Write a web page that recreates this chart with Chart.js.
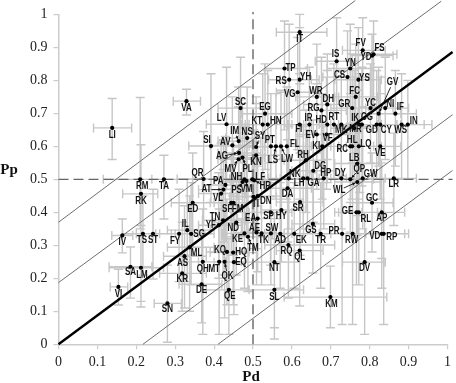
<!DOCTYPE html>
<html>
<head>
<meta charset="utf-8">
<title>Pp vs Pd</title>
<script src="https://cdn.jsdelivr.net/npm/chart.js@4"></script>
<style>
html, body { margin: 0; padding: 0; background: #ffffff; }
canvas { display: block; }
</style>
</head>
<body>
<canvas id="chart" width="456" height="383"></canvas>
<script>
const codes = [
	'LI','VA','RM','RK','TA','QR','SI','LV','AV','IM',
	'NS','AG','MV','PL','SC','EG','KT','HN','SY','PT',
	'LS','LW','FL','KN','IT','TP','RS','YH','VG','WR',
	'DH','RG','IS','FV','FS','YD','YN','CS','YS','FC',
	'GR','YC','GV','NI','IF','IN','WS','CY','GD','CG',
	'MR','IK','MK','RT','HD','IR','FI','EV','VF','KI',
	'HL','RC','LQ','VE','LB','RH','DG','HP','NK','LH',
	'GA','DY','QP','GW','LR','WL','DA','PA','AT','VL',
	'PS','VM','NH','LF','HR','TI','DN','ED','SF','FM',
	'EA','SP','HY','SR','TN','YF','ND','AE','SW','TK',
	'KE','TM','AD','EK','GS','TR','PR','RW','VD','RP',
	'AP','RL','GE','GC','DV','KM','SL','NT','QL','RQ',
	'EQ','HQ','KQ','QK','MT','QH','DE','QE','AS','ML',
	'KR','SN','IV','TS','ST','FY','IL','SG','SA','LM',
	'VI'
];
const pd = [
	.138,.329,.210,.212,.271,.373,.392,.432,.447,.463,
	.485,.464,.463,.473,.468,.531,.525,.538,.508,.546,
	.559,.572,.587,.508,.620,.581,.593,.620,.615,.664,
	.691,.676,.715,.782,.810,.806,.750,.743,.771,.764,
	.755,.802,.823,.840,.866,.898,.882,.827,.818,.780,
	.774,.760,.727,.708,.691,.645,.620,.664,.689,.678,
	.755,.750,.772,.827,.768,.636,.655,.682,.592,.629,
	.640,.727,.750,.782,.862,.768,.589,.429,.424,.418,
	.473,.483,.478,.498,.503,.501,.512,.345,.444,.450,
	.512,.545,.573,.621,.423,.412,.457,.509,.546,.522,
	.478,.487,.570,.606,.654,.674,.729,.756,.831,.836,
	.831,.772,.766,.806,.787,.699,.555,.555,.620,.591,
	.451,.449,.433,.427,.413,.371,.368,.438,.324,.337,
	.318,.280,.164,.217,.243,.310,.331,.341,.185,.212,
	.154
];
const pp = [
	.656,.737,.500,.456,.500,.501,.601,.667,.603,.616,
	.625,.580,.561,.566,.716,.699,.666,.666,.598,.600,
	.600,.600,.600,.573,.946,.836,.802,.802,.764,.750,
	.727,.709,.858,.891,.879,.875,.836,.810,.802,.750,
	.716,.716,.699,.716,.699,.666,.666,.666,.666,.666,
	.666,.655,.666,.666,.666,.666,.666,.636,.636,.600,
	.600,.600,.600,.600,.548,.558,.526,.503,.503,.503,
	.503,.503,.500,.503,.503,.492,.473,.483,.469,.457,
	.492,.495,.500,.500,.497,.447,.449,.429,.429,.429,
	.381,.400,.407,.431,.376,.361,.369,.339,.336,.336,
	.336,.326,.335,.335,.365,.335,.335,.335,.335,.335,
	.400,.400,.400,.429,.249,.143,.165,.249,.284,.301,
	.249,.278,.280,.250,.250,.250,.182,.165,.267,.294,
	.215,.124,.330,.335,.335,.335,.346,.335,.235,.232,
	.174
];
const pdLow = [
	.090,.295,.115,.165,.240,.305,.335,.380,.390,.410,
	.430,.410,.410,.420,.410,.470,.470,.480,.450,.490,
	.500,.510,.530,.450,.560,.530,.540,.570,.560,.610,
	.630,.620,.660,.730,.750,.750,.690,.680,.710,.710,
	.700,.750,.770,.790,.800,.840,.820,.770,.760,.720,
	.720,.700,.670,.650,.630,.590,.560,.610,.630,.620,
	.700,.690,.720,.770,.710,.580,.600,.630,.540,.570,
	.590,.670,.690,.730,.810,.710,.530,.370,.360,.360,
	.420,.430,.420,.440,.450,.440,.460,.290,.390,.390,
	.460,.490,.520,.560,.370,.360,.400,.450,.490,.470,
	.420,.430,.510,.550,.600,.620,.670,.700,.770,.790,
	.780,.720,.710,.750,.730,.580,.490,.500,.560,.530,
	.400,.390,.380,.370,.360,.320,.310,.380,.270,.280,
	.260,.246,.137,.165,.200,.260,.280,.290,.130,.130,
	.133
];
const pdHigh = [
	.188,.365,.240,.255,.305,.440,.450,.490,.500,.520,
	.540,.520,.520,.530,.530,.600,.580,.600,.570,.610,
	.620,.630,.650,.570,.690,.640,.650,.670,.670,.720,
	.750,.740,.770,.840,.870,.860,.810,.800,.830,.820,
	.810,.860,.880,.900,.920,.960,.940,.880,.870,.840,
	.830,.820,.780,.770,.750,.700,.680,.720,.750,.740,
	.810,.810,.830,.880,.830,.690,.710,.740,.650,.690,
	.700,.780,.810,.840,.920,.830,.650,.490,.480,.480,
	.530,.540,.530,.560,.560,.560,.570,.400,.500,.510,
	.570,.600,.630,.680,.480,.470,.510,.560,.600,.580,
	.530,.540,.630,.670,.710,.730,.790,.810,.890,.900,
	.890,.830,.820,.860,.840,.844,.630,.620,.680,.710,
	.510,.510,.490,.480,.470,.430,.420,.490,.380,.400,
	.380,.316,.191,.250,.300,.360,.390,.400,.240,.270,
	.178
];
const ppLow = [
	.560,.695,.350,.130,.380,.360,.430,.470,.450,.440,
	.470,.420,.400,.400,.550,.530,.500,.500,.440,.450,
	.440,.440,.440,.420,.790,.650,.620,.630,.590,.580,
	.560,.540,.700,.720,.720,.710,.670,.640,.640,.580,
	.550,.550,.540,.560,.540,.500,.500,.500,.500,.480,
	.460,.480,.500,.500,.490,.500,.500,.470,.470,.440,
	.440,.430,.440,.440,.390,.400,.370,.350,.350,.350,
	.350,.350,.340,.350,.360,.330,.310,.320,.310,.300,
	.330,.340,.340,.350,.340,.290,.290,.270,.270,.270,
	.220,.240,.250,.270,.210,.200,.210,.180,.180,.180,
	.170,.160,.170,.170,.216,.170,.060,.060,.170,.060,
	.260,.180,.180,.280,.030,.050,.016,.050,.116,.140,
	.090,.120,.120,.080,.030,.030,.065,.030,.110,.100,
	.100,.006,.277,.210,.198,.190,.190,.180,.140,.113,
	.119
];
const ppHigh = [
	.745,.773,.748,.605,.573,.645,.820,.840,.750,.780,
	.780,.740,.720,.730,.870,.850,.820,.830,.750,.760,
	.760,.770,.780,.730,1.00,.980,.970,.960,.930,.910,
	.880,.870,.990,.990,.980,.940,.970,.950,.960,.910,
	.880,.850,.840,.870,.830,.800,.820,.810,.830,.840,
	.820,.830,.830,.850,.830,.840,.820,.790,.810,.760,
	.760,.760,.770,.760,.700,.710,.680,.660,.660,.660,
	.650,.660,.660,.660,.640,.650,.620,.630,.620,.610,
	.640,.650,.660,.650,.650,.610,.600,.580,.580,.580,
	.540,.550,.560,.580,.530,.520,.520,.500,.490,.490,
	.490,.480,.490,.490,.520,.490,.510,.500,.500,.500,
	.550,.550,.540,.580,.400,.237,.320,.400,.440,.450,
	.400,.440,.440,.410,.410,.410,.340,.320,.420,.450,
	.370,.240,.380,.450,.470,.470,.500,.490,.295,.360,
	.227
];

// thin and thick guide lines, y at the two ends
const guideX = [
	[0, .763],
	[0, .984],
	[0, 1.013],
	[.217, 1.013],
	[.41, 1.013]
];
const guideY = [
	[.37, 1.042],
	[.187, 1.04],
	[0, .886],
	[0, .696],
	[0, .527]
];
const guideWidth = [1, 1, 2.4, 1, 1];
const dashedX = [[.5, .5], [0, 1.013]];
const dashedY = [[0, 1.007], [.5, .5]];

const tickStep = 0.1;

// label placement, pixels from the dot
const labelDx = [
	0,0,2,0,0,-6,-4,-5,-7,-4,
	0,-17,-8,5,0,0,-6,8,4,-1,
	-3,6,8,0,0,6,-8,6,-8,-1,
	1,-8,-1,-2,6,-6,0,-8,6,-1,
	-8,0,14,5,5,6,-1,6,-5,5,
	-4,1,0,0,-6,-1,-1,-6,1,-6,
	0,-8,7,0,-3,-3,7,2,6,-4,
	6,-1,9,8,0,-18,0,-7,-17,-3,
	-6,0,-8,8,11,2,8,0,-4,4,
	-7,-2,0,-2,-8,-8,-3,-2,1,2,
	-7,5,0,7,-2,0,-8,-1,-7,8,
	0,7,-9,0,0,1,0,0,0,-2,
	7,8,-7,3,-5,0,0,1,-2,7,
	0,0,0,-1,0,-4,-2,8,0,1,
	0
];
const labelDy = [
	7,7,7,7,7,-6,-6,-6,-3,-10,
	-6,3,10,12,-6,-6,-3,-3,-11,-6,
	14,13,-2,7,7,0,2,-2,2,-6,
	-5,-2,-7,-7,-6,2,-5,-2,-1,-6,
	-4,-5,-31,-4,-6,-3,6,6,6,-7,
	5,-10,6,-7,-4,-6,5,1,4,0,
	-6,3,-2,7,-5,-5,-5,-5,-4,5,
	5,-5,-10,-4,6,8,6,-4,0,5,
	8,8,-2,-2,6,7,5,6,6,6,
	0,4,6,6,-3,0,6,-4,-5,7,
	6,11,6,6,6,6,-3,6,2,3,
	6,7,-1,-5,6,7,7,6,7,6,
	0,0,-2,14,7,7,6,6,7,6,
	6,6,7,6,6,7,-6,0,5,7,
	7
];
const arrowCodes = ['IM','AG','MV','PL','SY','LS','LW','GV','QP','WL','AT','PS','VM','HR','TM','QK'];

const fontTicks = {family: '"Liberation Serif"', size: 14};
const capSize = 4.5;
const labelSqueeze = 0.8;


const errorBars = {
	id: 'errorBars',
	beforeDatasetsDraw(chart) {
		const c = chart.ctx, x = chart.scales.x, y = chart.scales.y;
		c.save();
		c.strokeStyle = '#c6c6c6';
		c.lineWidth = 1.4;
		c.beginPath();
		codes.forEach((code, i) => {
			const px = x.getPixelForValue(pd[i]), py = y.getPixelForValue(pp[i]);
			const xl = x.getPixelForValue(pdLow[i]), xh = x.getPixelForValue(pdHigh[i]);
			const yl = y.getPixelForValue(ppLow[i]), yh = y.getPixelForValue(ppHigh[i]);
			c.moveTo(xl, py); c.lineTo(xh, py);
			c.moveTo(xl, py - capSize); c.lineTo(xl, py + capSize);
			c.moveTo(xh, py - capSize); c.lineTo(xh, py + capSize);
			c.moveTo(px, yl); c.lineTo(px, yh);
			c.moveTo(px - capSize, yl); c.lineTo(px + capSize, yl);
			c.moveTo(px - capSize, yh); c.lineTo(px + capSize, yh);
		});
		c.stroke();
		c.restore();
	}
};


const pointLabels = {
	id: 'pointLabels',
	afterDatasetsDraw(chart) {
		const c = chart.ctx, x = chart.scales.x, y = chart.scales.y;
		c.save();
		c.fillStyle = '#111111';
		c.strokeStyle = '#111111';
		c.font = 'bold 10px "Liberation Sans"';
		c.textAlign = 'center';
		c.textBaseline = 'middle';
		c.lineWidth = 0.9;
		codes.forEach((code, i) => {
			const px = x.getPixelForValue(pd[i]), py = y.getPixelForValue(pp[i]);
			const lx = px + labelDx[i], ly = py + labelDy[i];
			c.fillText(code, lx, ly, c.measureText(code).width * labelSqueeze);
			if(arrowCodes.includes(code)) {
				const len = Math.hypot(labelDx[i], labelDy[i]);
				const ux = -labelDx[i] / len, uy = -labelDy[i] / len;
				const sx = lx + ux * 5, sy = ly + uy * 5;
				const ex = px - ux * 2, ey = py - uy * 2;
				c.beginPath();
				c.moveTo(sx, sy);
				c.lineTo(ex, ey);
				c.stroke();
				c.beginPath();
				c.moveTo(ex, ey);
				c.lineTo(ex - ux * 3 - uy * 1.5, ey - uy * 3 + ux * 1.5);
				c.lineTo(ex - ux * 3 + uy * 1.5, ey - uy * 3 - ux * 1.5);
				c.fill();
			}
		});
		c.font = 'bold 15px "Liberation Serif"';
		c.fillStyle = '#111111';
		c.fillText('Pp', 9, 170);
		c.fillText('Pd', 251, 377);
		c.restore();
	}
};


function axis(afterFit, pad) {
	return {
		type: 'linear',
		min: 0,
		max: 1,
		afterFit: afterFit,
		border: {color: '#cccccc', width: 1.5},
		grid: {drawOnChartArea: false, drawTicks: true, tickLength: 5, color: '#cccccc', lineWidth: 1.2},
		ticks: {
			stepSize: tickStep,
			color: '#222222',
			font: fontTicks,
			padding: pad,
			maxRotation: 0,
			autoSkip: false,
			callback: (v) => String(+v.toFixed(1))
		}
	};
}


const datasets = [{
	data: pd.map((v, i) => ({x: v, y: pp[i]})),
	showLine: false,
	pointRadius: 2.1,
	pointBackgroundColor: '#000000',
	pointBorderWidth: 0,
	order: 0
}];

guideX.forEach((xs, k) => {
	datasets.push({
		data: xs.map((v, i) => ({x: v, y: guideY[k][i]})),
		showLine: true,
		pointRadius: 0,
		borderColor: guideWidth[k] > 1 ? '#000000' : '#6e6e6e',
		borderWidth: guideWidth[k],
		clip: false,
		order: 1
	});
});

dashedX.forEach((xs, k) => {
	datasets.push({
		data: xs.map((v, i) => ({x: v, y: dashedY[k][i]})),
		showLine: true,
		pointRadius: 0,
		borderColor: '#666666',
		borderWidth: 1.4,
		borderDash: [10, 5],
		clip: false,
		order: 2
	});
});

new Chart(document.getElementById('chart').getContext('2d'), {
	type: 'scatter',
	data: {datasets: datasets},
	plugins: [errorBars, pointLabels],
	options: {
		responsive: false,
		animation: false,
		layout: {padding: {top: 14, right: 5.3, left: 0, bottom: 0}},
		plugins: {legend: {display: false}, tooltip: {enabled: false}, title: {display: false}},
		scales: {
			x: axis((s) => { s.height = 38.7; }, 5),
			y: axis((s) => { s.width = 58.5; }, 6)
		}
	}
});
</script>
</body>
</html>
